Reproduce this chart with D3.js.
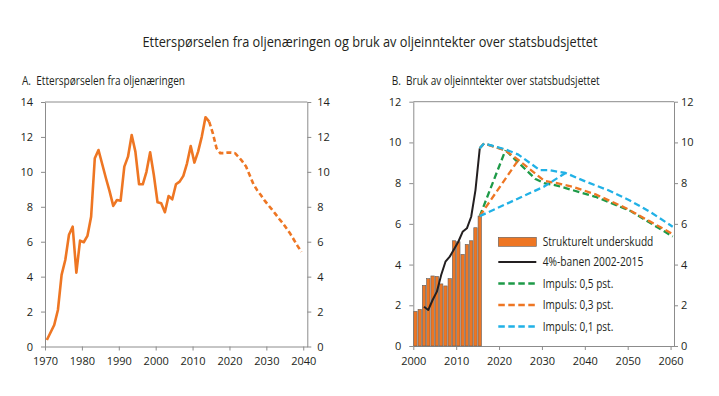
<!DOCTYPE html>
<html>
<head>
<meta charset="utf-8">
<script src="https://cdn.jsdelivr.net/npm/d3@7"></script>
<style>
  body { margin: 0; background: #fff; }
  svg text { font-family: "Open Sans", "Noto Sans", sans-serif; fill: #231f20; white-space: pre; }
  .axis path, .axis line { stroke: #8c8c8c; stroke-width: 1; }
  .axis text { font-size: 11px; }
</style>
</head>
<body>
<div id="chart"></div>
<script>
/*********************************************
** DATA
**********************************************/
var chartTitle = "Etterspørselen fra oljenæringen og bruk av oljeinntekter over statsbudsjettet";
var panelTitles = ["A.  Etterspørselen fra oljenæringen",
                   "B.  Bruk av oljeinntekter over statsbudsjettet"];

// panel A: demand from the petroleum industry, share of GDP
var demandYears = [1970, 1971, 1972, 1973, 1974, 1975, 1976, 1977, 1978, 1979,
                   1980, 1981, 1982, 1983, 1984, 1985, 1986, 1987, 1988, 1989,
                   1990, 1991, 1992, 1993, 1994, 1995, 1996, 1997, 1998, 1999,
                   2000, 2001, 2002, 2003, 2004, 2005, 2006, 2007, 2008, 2009,
                   2010, 2011, 2012, 2013, 2014];
var demandValues = [0.37, 0.8, 1.23, 2.09, 4.1, 4.95, 6.4, 6.86, 4.23, 6.06,
                    5.97, 6.33, 7.43, 10.78, 11.25, 10.45, 9.65, 8.9, 8.05, 8.39,
                    8.35, 10.3, 10.87, 12.11, 11.16, 9.29, 9.29, 10.0, 11.12, 9.82,
                    8.26, 8.2, 7.69, 8.62, 8.43, 9.29, 9.44, 9.77, 10.49, 11.48,
                    10.53, 11.16, 12.02, 13.13, 12.88];
var demandProjYears = [2014, 2015, 2016, 2017, 2018, 2019, 2020, 2021, 2022, 2023,
                       2024, 2025, 2026, 2027, 2028, 2029, 2030, 2031, 2032, 2033,
                       2034, 2035, 2036, 2037, 2038, 2039];
var demandProjValues = [12.88, 12.2, 11.35, 11.07, 11.07, 11.1, 11.1, 11.07, 10.85, 10.6,
                        10.3, 9.8, 9.3, 8.95, 8.67, 8.37, 8.1, 7.85, 7.58, 7.3,
                        7.05, 6.75, 6.45, 6.1, 5.75, 5.42];
var demandXTicks = [1970, 1980, 1990, 2000, 2010, 2020, 2030, 2040];
var demandYTicks = [0, 2, 4, 6, 8, 10, 12, 14];

// panel B: structural deficit and paths, share of trend GDP for mainland Norway
var deficitYears = [2000, 2001, 2002, 2003, 2004, 2005, 2006, 2007,
                    2008, 2009, 2010, 2011, 2012, 2013, 2014, 2015];
var deficitValues = [1.7, 1.8, 2.98, 3.31, 3.44, 3.42, 3.05, 2.95,
                     3.31, 5.17, 5.12, 4.5, 4.99, 5.17, 5.81, 6.38];

var ruleYears = [2002, 2003, 2004, 2005, 2006, 2007, 2008,
                 2009, 2010, 2011, 2012, 2013, 2014, 2015];
var ruleValues = [1.93, 1.77, 2.26, 2.67, 3.49, 4.14, 4.39,
                  4.75, 5.12, 5.61, 5.78, 6.35, 7.66, 9.71];

// each impulse path: one branch from the 4%-path, one from the deficit
var impuls05HighYears = [2015, 2016, 2021, 2028, 2030, 2033, 2042, 2050, 2060];
var impuls05HighValues = [9.71, 9.95, 9.62, 8.2, 8.0, 7.88, 7.33, 6.65, 5.38];
var impuls05LowYears = [2015, 2021];
var impuls05LowValues = [6.38, 9.62];

var impuls03HighYears = [2015, 2016, 2021, 2024, 2030, 2033, 2037, 2042, 2049, 2060];
var impuls03HighValues = [9.71, 9.95, 9.6, 9.14, 8.12, 8.0, 7.8, 7.45, 6.78, 5.5];
var impuls03LowYears = [2015, 2024];
var impuls03LowValues = [6.38, 9.14];

var impuls01HighYears = [2015, 2016, 2021, 2024, 2029, 2031, 2035, 2040, 2045, 2050, 2055, 2060];
var impuls01HighValues = [9.71, 9.95, 9.66, 9.4, 8.64, 8.64, 8.5, 8.05, 7.65, 7.15, 6.55, 5.86];
var impuls01LowYears = [2015, 2030, 2035];
var impuls01LowValues = [6.38, 7.83, 8.5];

var legendLabels = ["Strukturelt underskudd", "4%-banen 2002-2015",
                    "Impuls: 0,5 pst.", "Impuls: 0,3 pst.", "Impuls: 0,1 pst."];
var budgetXTicks = [2000, 2010, 2020, 2030, 2040, 2050, 2060];
var budgetYTicks = [0, 2, 4, 6, 8, 10, 12];

/*********************************************
** PLOTTING CODE
**********************************************/
var width = 719, height = 396;
var orange = "#ee7623", green = "#1e9a48", cyan = "#21b1e6", black = "#231f20";

var svg = d3.select("#chart").append("svg")
  .attr("width", width)
  .attr("height", height);

function zip(years, values) {
  return years.map(function(y, i) { return {year: y, value: values[i]}; });
}

/**
* drawFrame
* [left and right value axes, bottom year axis, plain top line]
*
* @param {scale} x [year scale]
* @param {scale} y [value scale]
* @param {array} xTicks [year ticks]
* @param {array} yTicks [value ticks]
* @param {double} rightPad [gap between right ticks and their labels]
**/
function drawFrame(x, y, xTicks, yTicks, rightPad) {
  var x0 = x.range()[0], x1 = x.range()[1];
  var y0 = y.range()[0], y1 = y.range()[1];

  svg.append("line")
    .attr("x1", x0).attr("x2", x1)
    .attr("y1", y1).attr("y2", y1)
    .attr("stroke", "#8c8c8c");

  svg.append("g").attr("class", "axis")
    .attr("transform", "translate(" + x0 + ",0)")
    .call(d3.axisLeft(y).tickValues(yTicks).tickSize(4).tickSizeOuter(0).tickPadding(8));

  svg.append("g").attr("class", "axis")
    .attr("transform", "translate(" + x1 + ",0)")
    .call(d3.axisRight(y).tickValues(yTicks).tickSize(4).tickSizeOuter(0).tickPadding(rightPad));

  svg.append("g").attr("class", "axis")
    .attr("transform", "translate(0," + y0 + ")")
    .call(d3.axisBottom(x).tickValues(xTicks).tickFormat(d3.format("d"))
          .tickSize(4).tickSizeOuter(0).tickPadding(7));

  svg.selectAll(".axis .domain").attr("stroke", "#8c8c8c");
}

function addLine(x, y, data, color, widthPx, dash) {
  var line = d3.line()
    .x(function(d) { return x(d.year + 0.5); })
    .y(function(d) { return y(d.value); });
  return svg.append("path")
    .datum(data)
    .attr("d", line)
    .attr("fill", "none")
    .attr("stroke", color)
    .attr("stroke-width", widthPx)
    .attr("stroke-linejoin", "round")
    .attr("stroke-dasharray", dash || null);
}

// title
svg.append("text")
  .attr("x", 370).attr("y", 47)
  .attr("text-anchor", "middle")
  .attr("font-size", 14)
  .attr("textLength", 455)
  .attr("lengthAdjust", "spacingAndGlyphs")
  .text(chartTitle);

/* ---------- panel A ---------- */
var xA = d3.scaleLinear().domain([1970, 2041.1]).range([45, 307.3]);
var yA = d3.scaleLinear().domain([0, 14]).range([346.5, 102]);

svg.append("text")
  .attr("x", 22).attr("y", 84.5)
  .attr("font-size", 12)
  .attr("textLength", 163)
  .attr("lengthAdjust", "spacingAndGlyphs")
  .text(panelTitles[0]);

drawFrame(xA, yA, demandXTicks, demandYTicks, 6);
addLine(xA, yA, zip(demandYears, demandValues), orange, 2.6);
addLine(xA, yA, zip(demandProjYears, demandProjValues), orange, 2.6, "5,3");

/* ---------- panel B ---------- */
var xB = d3.scaleLinear().domain([2000, 2060.8]).range([413.3, 674]);
var yB = d3.scaleLinear().domain([0, 12]).range([346, 101.7]);

svg.append("text")
  .attr("x", 391.7).attr("y", 84.5)
  .attr("font-size", 12)
  .attr("textLength", 208)
  .attr("lengthAdjust", "spacingAndGlyphs")
  .text(panelTitles[1]);

drawFrame(xB, yB, budgetXTicks, budgetYTicks, 3);

svg.append("g").selectAll("rect")
  .data(zip(deficitYears, deficitValues))
  .enter()
  .append("rect")
  .attr("x", function(d) { return xB(d.year) + 0.45; })
  .attr("width", function(d) { return xB(d.year + 1) - xB(d.year) - 0.9; })
  .attr("y", function(d) { return yB(d.value); })
  .attr("height", function(d) { return yB(0) - yB(d.value); })
  .attr("fill", orange)
  .attr("stroke", "#5e5e5e")
  .attr("stroke-width", 0.6);

addLine(xB, yB, zip(ruleYears, ruleValues), black, 2);

var dash = "6.5,3.5";
var scenarios = [
  {high: zip(impuls05HighYears, impuls05HighValues), low: zip(impuls05LowYears, impuls05LowValues), color: green},
  {high: zip(impuls03HighYears, impuls03HighValues), low: zip(impuls03LowYears, impuls03LowValues), color: orange},
  {high: zip(impuls01HighYears, impuls01HighValues), low: zip(impuls01LowYears, impuls01LowValues), color: cyan}
];
scenarios.forEach(function(s) {
  addLine(xB, yB, s.high, s.color, 2.3, dash);
  addLine(xB, yB, s.low, s.color, 2.3, dash);
});

// legend
var legend = svg.append("g").attr("transform", "translate(498.3,0)");
var legendRows = [241.8, 262, 283.5, 305, 326.5];
var legendWidths = [110.6, 100.6, 70.6, 70.6, 70.6];
var legendColors = [orange, black, green, orange, cyan];

legendLabels.forEach(function(label, i) {
  var ly = legendRows[i];
  if (i === 0) {
    legend.append("rect")
      .attr("x", 0).attr("y", ly - 4.5)
      .attr("width", 38).attr("height", 9)
      .attr("fill", orange)
      .attr("stroke", "#5e5e5e")
      .attr("stroke-width", 0.6);
  } else {
    legend.append("line")
      .attr("x1", 0).attr("x2", 38)
      .attr("y1", ly).attr("y2", ly)
      .attr("stroke", legendColors[i])
      .attr("stroke-width", i === 1 ? 2 : 2.3)
      .attr("stroke-dasharray", i === 1 ? null : dash);
  }
  legend.append("text")
    .attr("x", 44.4).attr("y", ly + 4.2)
    .attr("font-size", 12)
    .attr("textLength", legendWidths[i])
    .attr("lengthAdjust", "spacingAndGlyphs")
    .text(label);
});
</script>
</body>
</html>
